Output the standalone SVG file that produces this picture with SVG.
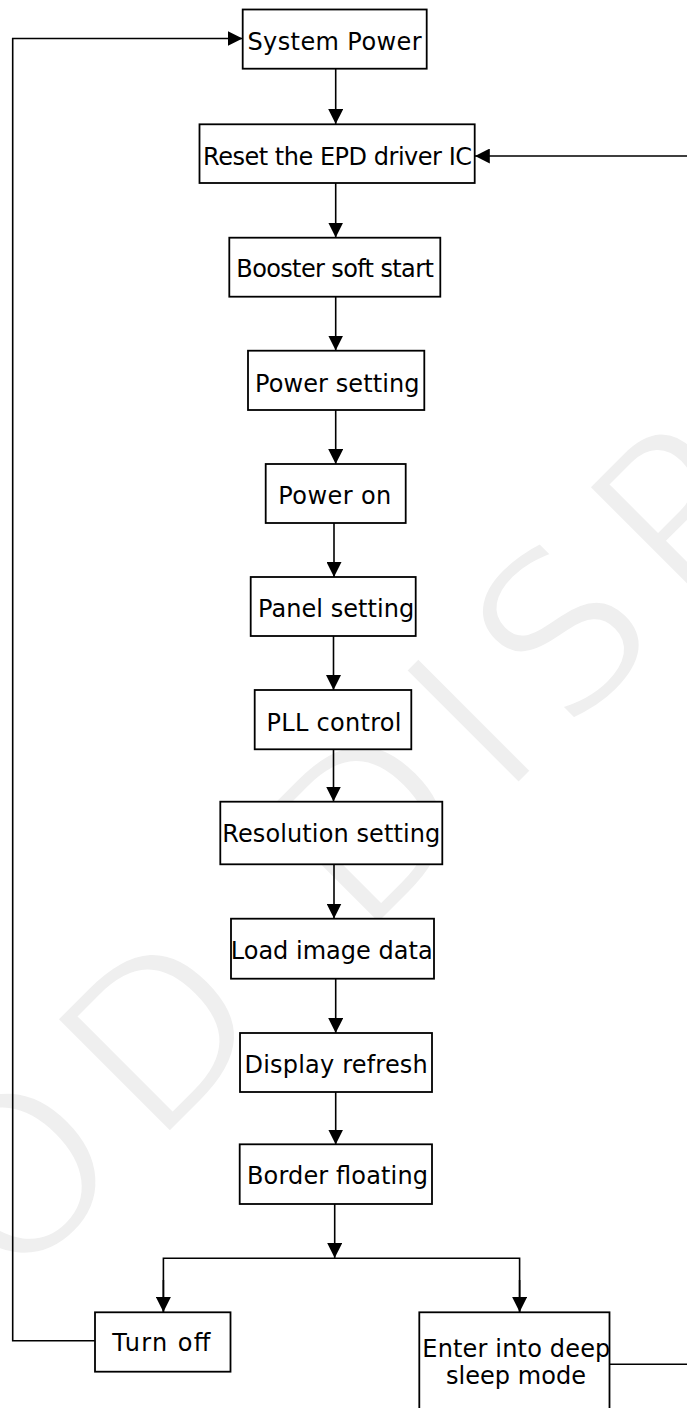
<svg xmlns="http://www.w3.org/2000/svg" width="687" height="1408" viewBox="0 0 687 1408">
<style>
.box{fill:#fff;stroke:#000;stroke-width:1.8}
.lbl{font-family:"DejaVu Sans",Verdana,sans-serif;font-size:24px;fill:#000}
.ln{fill:none;stroke:#000;stroke-width:1.6}
.wm{font-family:"DejaVu Sans",sans-serif;font-size:225px;fill:#efefef;stroke:#fff;stroke-width:7;letter-spacing:25px}
</style>
<defs>
<marker id="arr" viewBox="0 0 15 15" refX="15" refY="7.5" markerWidth="15" markerHeight="15" markerUnits="userSpaceOnUse" orient="auto">
<path d="M0,0 L15,7.5 L0,15 z" fill="#000"/>
</marker>
</defs>
<g id="watermark">
<text class="wm" transform="translate(-272.5,1577.5) rotate(-45)">GOOD DISPLAY</text>
</g>
<g id="connectors">
<line class="ln" x1="335.7" y1="69" x2="335.7" y2="124" marker-end="url(#arr)"/>
<line class="ln" x1="335.7" y1="183" x2="335.7" y2="237.5" marker-end="url(#arr)"/>
<line class="ln" x1="335.7" y1="297" x2="335.7" y2="350.5" marker-end="url(#arr)"/>
<line class="ln" x1="335.7" y1="410" x2="335.7" y2="464" marker-end="url(#arr)"/>
<line class="ln" x1="334" y1="523" x2="334" y2="577" marker-end="url(#arr)"/>
<line class="ln" x1="333.5" y1="636" x2="333.5" y2="690" marker-end="url(#arr)"/>
<line class="ln" x1="333.5" y1="749.5" x2="333.5" y2="801.5" marker-end="url(#arr)"/>
<line class="ln" x1="334" y1="864.5" x2="334" y2="918.5" marker-end="url(#arr)"/>
<line class="ln" x1="335.7" y1="979" x2="335.7" y2="1033" marker-end="url(#arr)"/>
<line class="ln" x1="335.7" y1="1092" x2="335.7" y2="1144.5" marker-end="url(#arr)"/>
<line class="ln" x1="334.7" y1="1204" x2="334.7" y2="1258" marker-end="url(#arr)"/>
<polyline class="ln" points="163.4,1312 163.4,1258.3 519.6,1258.3 519.6,1312"/>
<line class="ln" x1="163.4" y1="1280" x2="163.4" y2="1312" marker-end="url(#arr)"/>
<line class="ln" x1="519.6" y1="1280" x2="519.6" y2="1312" marker-end="url(#arr)"/>
<polyline class="ln" points="95,1340.7 12.7,1340.7 12.7,38.5 242.5,38.5" marker-end="url(#arr)"/>
<polyline class="ln" points="609.5,1364.3 695,1364.3 695,156 474.8,156" marker-end="url(#arr)"/>
</g>
<g id="n1"><rect class="box" x="242.7" y="9.5" width="184" height="59.2"/><text class="lbl" x="247.5" y="50" textLength="174" lengthAdjust="spacing">System Power</text></g>
<g id="n2"><rect class="box" x="199.5" y="124.3" width="275.2" height="58.7"/><text class="lbl" x="203" y="164.7" textLength="269" lengthAdjust="spacing">Reset the EPD driver IC</text></g>
<g id="n3"><rect class="box" x="229.3" y="237.7" width="211" height="59"/><text class="lbl" x="236.3" y="277.3" textLength="197.5" lengthAdjust="spacing">Booster soft start</text></g>
<g id="n4"><rect class="box" x="248" y="350.7" width="176.3" height="59.3"/><text class="lbl" x="255" y="392.3" textLength="164.5" lengthAdjust="spacing">Power setting</text></g>
<g id="n5"><rect class="box" x="265.7" y="464" width="140" height="59"/><text class="lbl" x="278.3" y="504" textLength="113" lengthAdjust="spacing">Power on</text></g>
<g id="n6"><rect class="box" x="250.7" y="577" width="165" height="59"/><text class="lbl" x="258" y="617.3" textLength="156.3" lengthAdjust="spacing">Panel setting</text></g>
<g id="n7"><rect class="box" x="254.7" y="690" width="156.6" height="59.3"/><text class="lbl" x="266.5" y="731" textLength="135" lengthAdjust="spacing">PLL control</text></g>
<g id="n8"><rect class="box" x="220.3" y="801.7" width="222" height="62.6"/><text class="lbl" x="222.3" y="842.3" textLength="218" lengthAdjust="spacing">Resolution setting</text></g>
<g id="n9"><rect class="box" x="231" y="918.7" width="203" height="60"/><text class="lbl" x="230.7" y="959" textLength="202" lengthAdjust="spacing">Load image data</text></g>
<g id="n10"><rect class="box" x="240" y="1033" width="192" height="59"/><text class="lbl" x="244.5" y="1072.7" textLength="183.3" lengthAdjust="spacing">Display refresh</text></g>
<g id="n11"><rect class="box" x="239.7" y="1144.3" width="192.3" height="59.7"/><text class="lbl" x="247" y="1184.3" textLength="181" lengthAdjust="spacing">Border floating</text></g>
<g id="n12"><rect class="box" x="95" y="1312.3" width="135.5" height="59.4"/><text class="lbl" x="112.3" y="1350.7" textLength="98" lengthAdjust="spacing">Turn off</text></g>
<g id="n13"><rect class="box" x="419.3" y="1312.3" width="190.2" height="110"/><text class="lbl" x="422.3" y="1356.7" textLength="188" lengthAdjust="spacing">Enter into deep</text><text class="lbl" x="446" y="1384.3" textLength="140" lengthAdjust="spacing">sleep mode</text></g>
</svg>
